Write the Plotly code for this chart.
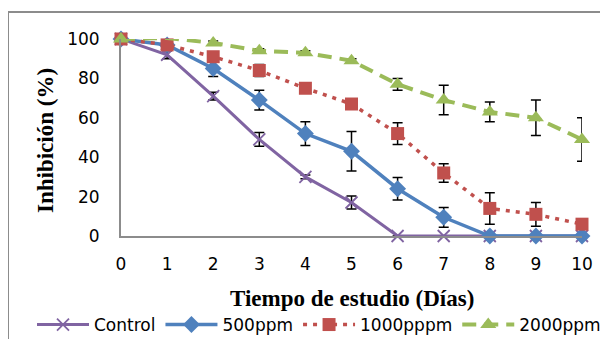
import plotly.graph_objects as go

days = [0, 1, 2, 3, 4, 5, 6, 7, 8, 9, 10]
control = [100, 92, 71, 49, 30, 17, 0, 0, 0, 0, 0]
control_err = [0, 2, 2, 3.5, 1, 3.3, 0, 0, 0, 0, 0]
p500 = [100, 97, 85, 69, 52, 43, 24, 9.5, 0, 0, 0]
p500_err = [0, 1, 4, 5, 6, 10, 5.7, 5, 0, 0, 0]
p1000 = [100, 97, 91, 84, 75, 67, 52, 32, 14, 11, 6]
p1000_err = [0, 1, 2, 3, 2, 2, 5.5, 4.7, 8, 6, 0]
p2000 = [100, 100.5, 98, 94, 93, 89, 77, 69, 63, 60, 49]
p2000_err = [0, 0, 1, 1, 1, 1, 3, 7.5, 5, 9, 11]

names = ["Control", "500ppm", "1000pppm", "2000ppm"]

series = [
    (names[0], control, control_err, "#8064A2", "solid", 3, "x-thin", 12),
    (names[1], p500, p500_err, "#4F81BD", "solid", 3.5, "diamond", 13),
    (names[2], p1000, p1000_err, "#C0504D", "4px,6px", 3.5, "square", 13),
    (names[3], p2000, p2000_err, "#9BBB59", "14px,8px", 4, "triangle-up", 14),
]

# page body has an 8px margin; figure coordinates are offset accordingly
OFF = 8
L, T, PW, PH = 121 - OFF, 39 - OFF, 461, 197
W, H = 600, 331


def px(xv):
    return (xv - OFF - L) / PW


def py(yv):
    return (T + PH - (yv - OFF)) / PH


fig = go.Figure()
for name, vals, err, col, dash, lw, sym, ms in series:
    fig.add_trace(go.Scatter(
        x=days, y=vals, name=name, mode="lines+markers",
        line=dict(color=col, width=lw, dash=dash),
        marker=dict(symbol=sym, size=ms, color=col,
                    line=dict(color=col, width=1.8 if sym == "x-thin" else 0)),
        error_y=dict(type="data", array=err, visible=True,
                     color="black", thickness=1.5, width=5),
        cliponaxis=False,
    ))

fig.update_layout(
    width=W, height=H,
    margin=dict(l=L, r=W - L - PW, t=T, b=H - T - PH, autoexpand=False),
    paper_bgcolor="white", plot_bgcolor="white",
    font=dict(family="DejaVu Sans", size=17, color="black"),
    showlegend=True,
    legend=dict(orientation="h", x=px(32), xanchor="left",
                y=py(325), yanchor="middle",
                font=dict(size=17, family="DejaVu Sans"),
                itemwidth=52, tracegroupgap=0, bgcolor="rgba(0,0,0,0)"),
    xaxis=dict(range=[0, 10], tickvals=days, ticktext=[str(d) for d in days],
               showgrid=False, zeroline=False, showline=True,
               linecolor="#8c8c8c", linewidth=2, ticks="",
               ticklabelstandoff=12,
               tickfont=dict(family="DejaVu Sans", size=17)),
    yaxis=dict(range=[0, 100], tickvals=[0, 20, 40, 60, 80, 100],
               showgrid=False, zeroline=False, showline=True,
               linecolor="#8c8c8c", linewidth=2, ticks="",
               ticklabelstandoff=16,
               tickfont=dict(family="DejaVu Sans", size=17)),
    annotations=[
        dict(text="<b>Tiempo de estudio (Días)</b>", xref="paper", yref="paper",
             x=0.5, y=py(298), xanchor="center", yanchor="middle",
             showarrow=False, font=dict(family="Liberation Serif", size=23)),
        dict(text="<b>Inhibición (%)</b>", xref="paper", yref="paper",
             x=px(45), y=py(141), xanchor="center",
             yanchor="middle", textangle=-90, showarrow=False,
             font=dict(family="Liberation Serif", size=23)),
    ],
    shapes=[
        dict(type="rect", xref="paper", yref="paper",
             x0=px(8), x1=1.3, y0=-0.7, y1=py(12),
             line=dict(color="#8c8c8c", width=2), layer="below"),
    ],
)

fig.write_html("out.html")
